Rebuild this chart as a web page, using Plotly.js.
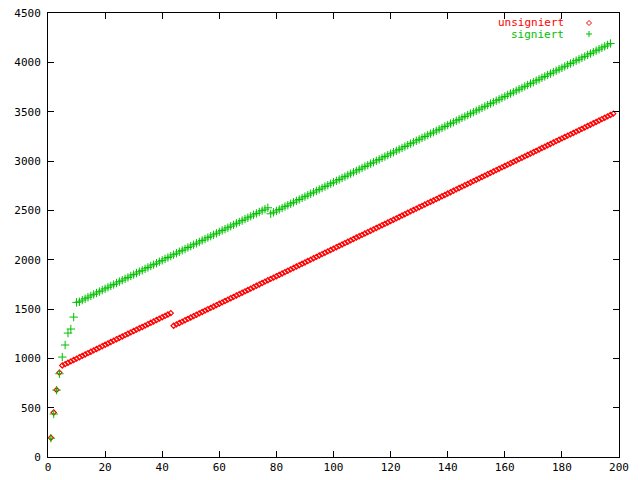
<!DOCTYPE html>
<html>
<head>
<meta charset="utf-8">
<script src="https://cdn.plot.ly/plotly-3.0.1.min.js"></script>
<style>html,body{margin:0;padding:0;background:#fff;}#chart{width:640px;height:480px;}</style>
</head>
<body>
<div id="chart"></div>
<script>
// unsigniert (red) : x = 1..198
const unsignedX = [];
for (let i = 1; i <= 198; i++) unsignedX.push(i);
const unsignedY = [
  195, 451, 680, 855,
  928, 941, 955, 969, 983, 997, 1011, 1025, 1039, 1053, 1067, 1081, 1095, 1109, 1123, 1137,
  1151, 1165, 1179, 1193, 1207, 1221, 1235, 1249, 1263, 1277, 1291, 1305, 1318, 1332, 1346, 1360,
  1374, 1388, 1402, 1416, 1430, 1444, 1458,
  1330, 1344, 1358, 1372, 1386, 1400, 1414, 1428, 1442, 1456, 1470, 1484, 1498, 1511, 1525, 1539,
  1553, 1567, 1581, 1595, 1609, 1623, 1637, 1651, 1665, 1679, 1693, 1707, 1721, 1735, 1749, 1763,
  1777, 1791, 1805, 1818, 1832, 1846, 1860, 1874, 1888, 1902, 1916, 1930, 1944, 1958, 1972, 1986,
  2000, 2014, 2028, 2042, 2056, 2070, 2084, 2098, 2112, 2126, 2140, 2154, 2168, 2182, 2196, 2210,
  2224, 2238, 2251, 2265, 2279, 2293, 2307, 2321, 2335, 2349, 2363, 2377, 2391, 2405, 2419, 2433,
  2447, 2461, 2475, 2489, 2503, 2517, 2531, 2545, 2559, 2573, 2587, 2600, 2614, 2628, 2642, 2656,
  2670, 2684, 2698, 2712, 2726, 2740, 2754, 2768, 2782, 2796, 2810, 2824, 2838, 2852, 2866, 2880,
  2894, 2908, 2922, 2935, 2949, 2963, 2977, 2991, 3005, 3019, 3033, 3047, 3061, 3075, 3089, 3103,
  3117, 3131, 3145, 3159, 3173, 3187, 3201, 3215, 3229, 3243, 3257, 3270, 3284, 3298, 3312, 3326,
  3340, 3354, 3368, 3382, 3396, 3410, 3424, 3438, 3452, 3466, 3480
];

// signiert (green) : x = 1..197
const signedX = [];
for (let i = 1; i <= 197; i++) signedX.push(i);
const signedY = [
  190, 436, 678, 844, 1013, 1135, 1256, 1297, 1418, 1567, 1573, 1590,
  1604, 1619, 1633, 1648, 1662, 1676, 1691, 1705, 1720, 1734, 1748, 1763, 1777, 1792, 1806, 1820,
  1835, 1849, 1864, 1878, 1892, 1907, 1921, 1936, 1950, 1964, 1979, 1993, 2008, 2022, 2036, 2051,
  2065, 2080, 2094, 2108, 2123, 2137, 2152, 2166, 2180, 2195, 2209, 2224, 2238, 2252, 2267, 2281,
  2296, 2310, 2324, 2339, 2353, 2368, 2382, 2396, 2411, 2425, 2440, 2454, 2468, 2483, 2497, 2512, 2526,
  2465, 2480, 2494, 2509, 2523, 2538, 2552, 2567, 2581, 2596, 2610, 2625, 2639, 2654, 2668, 2683,
  2697, 2712, 2726, 2741, 2755, 2770, 2784, 2799, 2813, 2828, 2842, 2857, 2871, 2886, 2900, 2915,
  2929, 2944, 2958, 2973, 2987, 3002, 3016, 3031, 3045, 3060, 3074, 3089, 3103, 3118, 3132, 3147,
  3161, 3176, 3190, 3205, 3219, 3234, 3248, 3263, 3277, 3292, 3306, 3321, 3335, 3350, 3364, 3379,
  3393, 3408, 3422, 3437, 3451, 3466, 3480, 3495, 3509, 3524, 3538, 3553, 3567, 3582, 3596, 3611,
  3625, 3640, 3654, 3669, 3683, 3698, 3712, 3727, 3741, 3756, 3770, 3785, 3799, 3814, 3828, 3843,
  3857, 3872, 3886, 3901, 3915, 3930, 3944, 3959, 3973, 3988, 4002, 4017, 4031, 4046, 4060, 4075,
  4089, 4104, 4118, 4133, 4147, 4162, 4176, 4191
];

const seriesNames = ["unsigniert", "signiert"];
const xTicks = [0, 20, 40, 60, 80, 100, 120, 140, 160, 180, 200];
const yTicks = [0, 500, 1000, 1500, 2000, 2500, 3000, 3500, 4000, 4500];

const RED = "#ff0000", GREEN = "#00c000";
const FONT = {family: "DejaVu Sans Mono, Liberation Mono, monospace", size: 11, color: "#000"};

const traces = [
  {x: unsignedX, y: unsignedY, type: "scatter", mode: "markers", name: seriesNames[0],
   marker: {symbol: "diamond-open", size: 4, color: RED, line: {color: RED, width: 1.2}}, showlegend: false},
  {x: signedX, y: signedY, type: "scatter", mode: "markers", name: seriesNames[1],
   marker: {symbol: "cross-thin-open", size: 6, color: GREEN, line: {color: GREEN, width: 1}}, showlegend: false}
];

// pixel -> paper helpers for the legend
const L = 48, T = 13, W = 571, H = 444;
const px = v => (v - L) / W;
const py = v => (T + H - v) / H;

const lx = 589;
const shapes = [
  {type: "path", xref: "paper", yref: "paper",
   path: `M ${px(lx-2.5)} ${py(23)} L ${px(lx)} ${py(20.5)} L ${px(lx+2.5)} ${py(23)} L ${px(lx)} ${py(25.5)} Z`,
   line: {color: RED, width: 1}},
  {type: "line", xref: "paper", yref: "paper", x0: px(lx-3), x1: px(lx+3), y0: py(34), y1: py(34), line: {color: GREEN, width: 1}},
  {type: "line", xref: "paper", yref: "paper", x0: px(lx), x1: px(lx), y0: py(31), y1: py(37), line: {color: GREEN, width: 1}}
];

const annotations = [
  {xref: "paper", yref: "paper", x: px(566), y: py(23), xanchor: "right", yanchor: "middle",
   text: seriesNames[0], showarrow: false, font: {family: FONT.family, size: 11, color: RED}},
  {xref: "paper", yref: "paper", x: px(566), y: py(34.5), xanchor: "right", yanchor: "middle",
   text: seriesNames[1], showarrow: false, font: {family: FONT.family, size: 11, color: GREEN}}
];

const axisCommon = {
  showgrid: false, zeroline: false, showline: true, linecolor: "#000", linewidth: 1,
  mirror: "ticks", ticks: "inside", ticklen: 6, tickcolor: "#000", tickwidth: 1,
  tickfont: FONT
};

const layout = {
  width: 640, height: 480,
  margin: {l: L, r: 640 - L - W, t: T, b: 480 - T - H},
  paper_bgcolor: "#fff", plot_bgcolor: "#fff",
  xaxis: Object.assign({}, axisCommon, {range: [0, 200], tickmode: "array", tickvals: xTicks, ticktext: xTicks.map(String)}),
  yaxis: Object.assign({}, axisCommon, {range: [0, 4500], tickmode: "array", tickvals: yTicks, ticktext: yTicks.map(String), ticklabelstandoff: 4}),
  shapes: shapes,
  annotations: annotations,
  showlegend: false
};

Plotly.newPlot("chart", traces, layout, {staticPlot: true, displayModeBar: false});
</script>
</body>
</html>
